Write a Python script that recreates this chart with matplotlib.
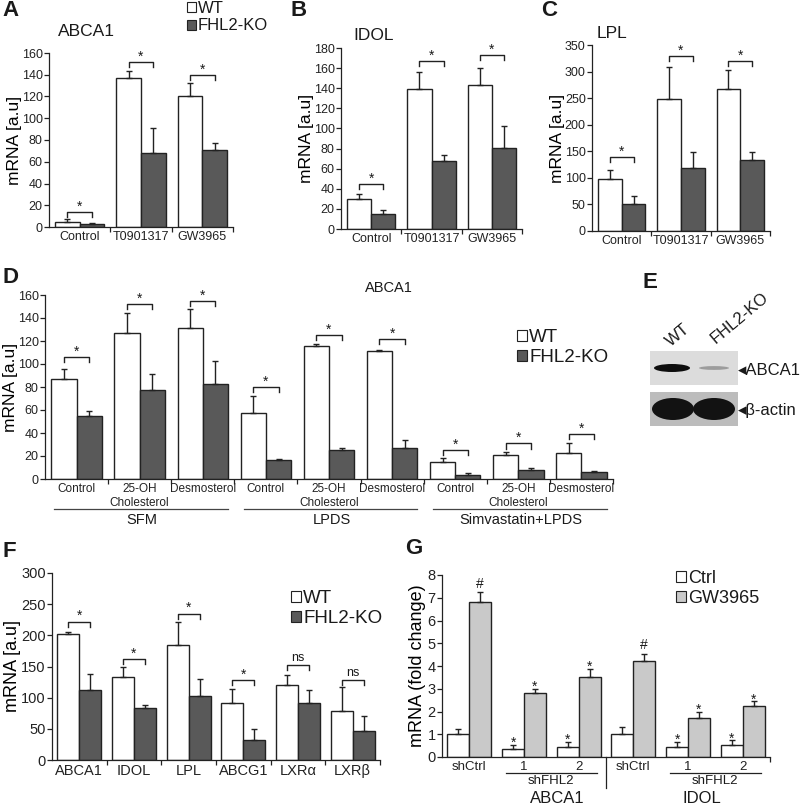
import numpy as np
import matplotlib
matplotlib.use('Agg')
import matplotlib.pyplot as plt
from matplotlib.patches import Patch, Rectangle, Ellipse

plt.rcParams['font.family'] = ['Liberation Sans', 'DejaVu Sans']
plt.rcParams['axes.linewidth'] = 0.9
plt.rcParams['axes.edgecolor'] = '#222222'
plt.rcParams['xtick.color'] = '#222222'
plt.rcParams['ytick.color'] = '#222222'
plt.rcParams['xtick.major.width'] = 0.9
plt.rcParams['xtick.minor.width'] = 0.9
plt.rcParams['ytick.major.width'] = 0.9
plt.rcParams['ytick.major.size'] = 3.5
plt.rcParams['ytick.major.pad'] = 1
plt.rcParams['text.color'] = '#1a1a1a'

INK = '#222222'
KO_GREY = '#595959'
GW_GREY = '#c9c9c9'

# ---------------- data ----------------
treat_cats = ['Control', 'T0901317', 'GW3965']

# A - ABCA1
a_wt = [5, 137, 120]
a_wt_err = [2.5, 6, 12]
a_ko = [3, 68, 71]
a_ko_err = [0.5, 23, 6]
a_sig = [14, 152, 140]

# B - IDOL
b_wt = [30, 139, 143]
b_wt_err = [5, 17, 17]
b_ko = [15, 68, 81]
b_ko_err = [4, 6, 21]
b_sig = [45, 167, 173]

# C - LPL
c_wt = [97, 248, 267]
c_wt_err = [17, 61, 36]
c_ko = [50, 119, 134]
c_ko_err = [16, 30, 15]
c_sig = [139, 329, 320]

# D - ABCA1 under different media
d_cats = ['Control', '25-OH\nCholesterol', 'Desmosterol'] * 3
d_groups = ['SFM', 'LPDS', 'Simvastatin+LPDS']
d_wt = [87, 127, 131, 57, 116, 111, 14.5, 20.5, 23]
d_wt_err = [9, 17, 17, 15, 1, 1, 3.5, 3, 8]
d_ko = [55, 77, 83, 16.5, 25, 27, 3.8, 8, 6.4]
d_ko_err = [4, 14, 20, 0.5, 2, 6.6, 1.2, 1.5, 0.8]
d_sig = [106, 152, 155, 80, 125, 122, 25.5, 31, 39]

# E - western blot band intensities (relative)
e_lanes = ['WT', 'FHL2-KO']
e_abca1 = [1.0, 0.3]
e_actin = [1.0, 1.0]

# F - gene panel
f_cats = ['ABCA1', 'IDOL', 'LPL', 'ABCG1', 'LXRα', 'LXRβ']
f_wt = [202, 133, 184, 91, 120, 79]
f_wt_err = [4, 17, 37, 23, 17, 38]
f_ko = [112, 84, 102, 32, 91, 47]
f_ko_err = [26, 5, 28, 18, 21, 23]
f_sig = [222, 162, 235, 128, 153, 129]
f_sig_lab = ['*', '*', '*', '*', 'ns', 'ns']

# G - shRNA knockdown
g_cats = ['shCtrl', '1', '2', 'shCtrl', '1', '2']
g_genes = ['ABCA1', 'IDOL']
g_ctrl = [1.03, 0.34, 0.44, 1.03, 0.44, 0.54]
g_ctrl_err = [0.22, 0.19, 0.24, 0.29, 0.22, 0.19]
g_gw = [6.81, 2.82, 3.52, 4.21, 1.72, 2.23]
g_gw_err = [0.43, 0.18, 0.34, 0.33, 0.28, 0.22]
g_ctrl_mark = ['', '*', '*', '', '*', '*']
g_gw_mark = ['#', '*', '*', '#', '*', '*']

W, H = 800, 807
fig = plt.figure(figsize=(W / 100, H / 100), dpi=100)


def nova_axes(x0, y0, x1, y1):
    """Axes placed by pixel box (left, top, right, bottom)."""
    return fig.add_axes([x0 / W, 1 - y1 / H, (x1 - x0) / W, (y1 - y0) / H])


def barras(ax, cats, v1, e1, v2, e2, c2, ymax, ystep, xfs=9, yfs=9, lfs=12.5):
    """Two bars per category with one-sided error bars."""
    n = len(cats)
    x = np.arange(n)
    zeros = np.zeros(n)
    ax.bar(x - 0.2, v1, 0.4, color='white', edgecolor=INK, linewidth=1, zorder=2)
    ax.bar(x + 0.2, v2, 0.4, color=c2, edgecolor=INK, linewidth=1, zorder=2)
    for xs, v, e in [(x - 0.2, v1, e1), (x + 0.2, v2, e2)]:
        ax.errorbar(xs, v, yerr=[zeros, e], fmt='none', ecolor=INK, elinewidth=1,
                    capsize=2.5, capthick=1, zorder=3, clip_on=False)
    ax.set_xlim(-0.5, n - 0.5)
    ax.set_ylim(0, ymax)
    ax.set_yticks(np.arange(0, ymax + ystep / 2, ystep))
    ax.tick_params(axis='y', labelsize=yfs)
    ax.set_xticks(x)
    ax.set_xticklabels(cats, fontsize=xfs)
    ax.set_xticks(np.arange(0.5, n, 1), minor=True)
    ax.tick_params(axis='x', which='major', length=0, pad=3)
    ax.tick_params(axis='x', which='minor', length=3.5)
    ax.spines[['top', 'right']].set_visible(False)
    ax.set_ylabel('mRNA [a.u]', fontsize=lfs, labelpad=0)
    return x


def chavetas(ax, x, alturas, ymax, rotulos=None, fs=10):
    """Significance brackets between the two bars of each group."""
    drop = ymax * 0.028
    for i, h in enumerate(alturas):
        ax.plot([x[i] - 0.2, x[i] - 0.2, x[i] + 0.2, x[i] + 0.2],
                [h - drop, h, h, h - drop], color=INK, lw=1, clip_on=False)
        rot = '*' if rotulos is None else rotulos[i]
        off = 1 if rot == '*' else 2.5
        ax.annotate(rot, (x[i], h), xytext=(0, off), textcoords='offset points',
                    ha='center', va='baseline', fontsize=fs if rot == '*' else 9)


def legenda(x, y, labels, colors, fs):
    handles = [Patch(facecolor=c, edgecolor=INK, linewidth=0.8) for c in colors]
    fig.legend(handles, labels, loc='upper left', bbox_to_anchor=(x / W, 1 - y / H),
               frameon=False, fontsize=fs, handlelength=0.55, handleheight=0.55,
               handletextpad=0.1, labelspacing=0.15, borderpad=0, borderaxespad=0)


def letra(x, y, s):
    fig.text(x / W, 1 - y / H, s, fontsize=16, fontweight='bold', va='top', ha='left')


# ---------------- A ----------------
ax = nova_axes(49, 53, 233, 227)
x = barras(ax, treat_cats, a_wt, a_wt_err, a_ko, a_ko_err, KO_GREY, 160, 20)
chavetas(ax, x, a_sig, 160)
fig.text(58 / W, 1 - 32 / H, 'ABCA1', fontsize=12.5, va='center')
legenda(187, 1, ['WT', 'FHL2-KO'], ['white', KO_GREY], 12)
letra(2, 0.5, 'A')

# ---------------- B ----------------
ax = nova_axes(341, 48, 522, 229)
x = barras(ax, treat_cats, b_wt, b_wt_err, b_ko, b_ko_err, KO_GREY, 180, 20)
chavetas(ax, x, b_sig, 180)
fig.text(353 / W, 1 - 35 / H, 'IDOL', fontsize=12.5, va='center')
letra(291, 0.5, 'B')

# ---------------- C ----------------
ax = nova_axes(592, 45, 770, 231)
x = barras(ax, treat_cats, c_wt, c_wt_err, c_ko, c_ko_err, KO_GREY, 350, 50)
chavetas(ax, x, c_sig, 350)
fig.text(597 / W, 1 - 33 / H, 'LPL', fontsize=12.5, va='center')
letra(541, 0.5, 'C')

# ---------------- D ----------------
ax = nova_axes(45, 295, 613, 479)
x = barras(ax, d_cats, d_wt, d_wt_err, d_ko, d_ko_err, KO_GREY, 160, 20, xfs=8.5)
chavetas(ax, x, d_sig, 160)
trans = ax.get_xaxis_transform()
for g, nome in enumerate(d_groups):
    ax.plot([3 * g - 0.35, 3 * g + 2.4], [-0.163, -0.163], transform=trans,
            color='#444444', lw=0.9, clip_on=False)
    ax.text(3 * g + 1.04, -0.225, nome, transform=trans, ha='center', va='center', fontsize=10.5)
ax.text(4.95, 1.04, 'ABCA1', transform=trans, ha='center', va='center', fontsize=10.5)
legenda(517, 329, ['WT', 'FHL2-KO'], ['white', KO_GREY], 13.5)
letra(2, 267, 'D')

# ---------------- E (blot) ----------------
axe = nova_axes(648, 348, 740, 430)
axe.set_xlim(0, 92)
axe.set_ylim(82, 0)
axe.axis('off')
axe.add_patch(Rectangle((2, 3), 88, 34, facecolor='#dcdcdc', edgecolor='none'))
axe.add_patch(Rectangle((2, 44), 88, 34, facecolor='#bcbcbc', edgecolor='none'))
for i, nivel in enumerate(e_abca1):
    cinza = str(0.85 - 0.8 * nivel)
    axe.add_patch(Ellipse((24 + 42 * i, 20), 36 - 6 * i, 2 + 6 * nivel, facecolor=cinza, edgecolor='none'))
for i, nivel in enumerate(e_actin):
    cinza = str(0.85 - 0.78 * nivel)
    axe.add_patch(Ellipse((25 + 41 * i, 61), 42, 6 + 16 * nivel, facecolor=cinza, edgecolor='none'))
fig.text(678 / W, 1 - 335 / H, e_lanes[0], rotation=40, ha='center', va='center', fontsize=12)
fig.text(740 / W, 1 - 318 / H, e_lanes[1], rotation=40, ha='center', va='center', fontsize=12)
fig.text(738 / W, 1 - 370 / H, '◂ABCA1', ha='left', va='center', fontsize=12,
         family=['Liberation Sans', 'DejaVu Sans'])
fig.text(738 / W, 1 - 410 / H, '◂β-actin', ha='left', va='center', fontsize=12,
         family=['Liberation Sans', 'DejaVu Sans'])
letra(642, 272, 'E')

# ---------------- F ----------------
ax = nova_axes(52, 573, 380, 760)
x = barras(ax, f_cats, f_wt, f_wt_err, f_ko, f_ko_err, KO_GREY, 300, 50,
           xfs=10.5, yfs=10.5, lfs=13)
chavetas(ax, x, f_sig, 300, f_sig_lab)
legenda(291, 590, ['WT', 'FHL2-KO'], ['white', KO_GREY], 13.5)
letra(3, 541, 'F')

# ---------------- G ----------------
ax = nova_axes(442, 575, 770, 757)
x = barras(ax, g_cats, g_ctrl, g_ctrl_err, g_gw, g_gw_err, GW_GREY, 8, 1, xfs=9.5, yfs=10.5)
ax.set_xticks([len(g_cats) - 0.5], minor=True)
ax.set_ylabel('mRNA (fold change)', fontsize=13, labelpad=1)
for i in range(len(g_cats)):
    for xs, v, e, m in [(x[i] - 0.2, g_ctrl[i], g_ctrl_err[i], g_ctrl_mark[i]),
                        (x[i] + 0.2, g_gw[i], g_gw_err[i], g_gw_mark[i])]:
        if m == '*':
            ax.annotate(m, (xs, v + e), xytext=(0, -1.5), textcoords='offset points',
                        ha='center', va='baseline', fontsize=10)
        elif m == '#':
            ax.annotate(m, (xs, v + e), xytext=(0, 1), textcoords='offset points',
                        ha='center', va='bottom', fontsize=10)
trans = ax.get_xaxis_transform()
ax.plot([2.5, 2.5], [0, -0.17], transform=trans, color=INK, lw=0.9, clip_on=False)
for g, nome in enumerate(g_genes):
    ax.plot([3 * g + 0.67, 3 * g + 2.33], [-0.088, -0.088], transform=trans,
            color=INK, lw=0.9, clip_on=False)
    ax.text(3 * g + 1.5, -0.132, 'shFHL2', transform=trans, ha='center', va='center', fontsize=9.5)
fig.text(557 / W, 1 / H, g_genes[0], ha='center', va='bottom', fontsize=12)
fig.text(702 / W, 1 / H, g_genes[1], ha='center', va='bottom', fontsize=12)
legenda(676, 570, ['Ctrl', 'GW3965'], ['white', GW_GREY], 13)
letra(405, 538, 'G')

fig.savefig('out.png', dpi=100)
